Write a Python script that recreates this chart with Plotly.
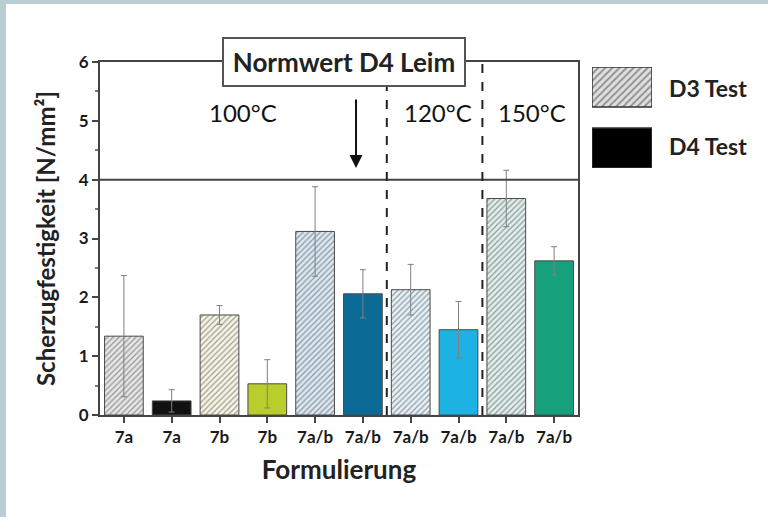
import plotly.graph_objects as go

# ---------------- data ----------------
labels = ["7a", "7a", "7b", "7b", "7a/b", "7a/b", "7a/b", "7a/b", "7a/b", "7a/b"]
tests = ["D3", "D4", "D3", "D4", "D3", "D4", "D3", "D4", "D3", "D4"]
values = [1.34, 0.24, 1.70, 0.53, 3.12, 2.06, 2.13, 1.45, 3.68, 2.62]
errors = [1.03, 0.19, 0.16, 0.41, 0.76, 0.41, 0.43, 0.48, 0.48, 0.24]
colors = ["#e6e6e6", "#111111", "#f6f5e3", "#b9cd2c", "#d9e8f2",
          "#0c6a96", "#e4f1f8", "#1cb2e3", "#dfefeb", "#17a07c"]
hatch_fg = ["#6a6a6a", None, "#c9c7b0", None, "#a9bfd0",
            None, "#b9cedb", None, "#b3cbc4", None]
group_bounds = [5.5, 7.5]
temp_labels = ["100°C", "120°C", "150°C"]
temp_x = [2.49, 6.57, 8.54]
norm_value = 4
legend_names = ["D3 Test", "D4 Test"]

FONT = "Lato"
W, H = 768, 517
L, R, T, B = 100, 110, 62, 102
pw = W - L - R
ph = H - T - B
main_right = 578

def px_x(p):
    return (p - L) / pw

def px_y(p):
    return (H - B - p) / ph

fig = go.Figure()

x_idx = list(range(len(labels)))
shapes_pat = [("/" if t == "D3" else "") for t in tests]
fig.add_trace(go.Bar(
    x=x_idx, y=values,
    width=0.81,
    marker=dict(
        color=colors,
        line=dict(color="#4a4a4a", width=1),
        pattern=dict(shape=shapes_pat,
                     fgcolor=[c if c else "#000" for c in hatch_fg],
                     size=4, solidity=0.3),
    ),
    error_y=dict(type="data", array=errors, color="#808080", thickness=1, width=3),
    showlegend=False, hoverinfo="skip",
))

# legend boxes on a separate invisible axis
fig.add_trace(go.Bar(
    x=[1, 1], y=[0, 1], orientation="h", width=0.656,
    xaxis="x2", yaxis="y2",
    marker=dict(color=["#e0e0e0", "#000000"],
                line=dict(color="#333333", width=1.5),
                pattern=dict(shape=["/", ""], fgcolor=["#555555", "#000000"],
                             size=5, solidity=0.4)),
    showlegend=False, hoverinfo="skip",
))

shapes = []
shapes.append(dict(type="line", xref="x", yref="y", x0=-0.5, x1=len(labels) - 0.5,
                   y0=norm_value, y1=norm_value, line=dict(color="#444444", width=2)))
for gb in group_bounds:
    shapes.append(dict(type="line", xref="x", yref="y", x0=gb, x1=gb, y0=0, y1=6,
                       line=dict(color="#222222", width=2, dash="dash")))
shapes.append(dict(type="rect", xref="paper", yref="paper", x0=px_x(0), x1=px_x(6),
                   y0=px_y(H), y1=px_y(0), fillcolor="#b8ced2", line=dict(width=0), layer="below"))
shapes.append(dict(type="rect", xref="paper", yref="paper", x0=px_x(0), x1=px_x(W),
                   y0=px_y(4), y1=px_y(0), fillcolor="#b8ced2", line=dict(width=0), layer="below"))

annotations = []
for t, tx in zip(temp_labels, temp_x):
    annotations.append(dict(x=tx, y=5.14, xref="x", yref="y", text=t, showarrow=False,
                            font=dict(family=FONT, size=24, color="#111111")))
annotations.append(dict(x=4.6, y=6.0, xref="x", yref="y", text="<b>Normwert D4 Leim</b>",
                        showarrow=False, width=238, height=44, bgcolor="white",
                        bordercolor="#555555", borderwidth=2,
                        font=dict(family=FONT, size=26, color="#222222")))
annotations.append(dict(x=4.856, y=4.2, xref="x", yref="y", ax=4.856, ay=5.39,
                        axref="x", ayref="y", text="", showarrow=True,
                        arrowhead=2, arrowsize=1.3, arrowwidth=2, arrowcolor="#111111"))
for i, name in enumerate(legend_names):
    annotations.append(dict(x=px_x(667), y=px_y(88 + 58 * i), xref="paper", yref="paper",
                            text="<b>" + name + "</b>", showarrow=False,
                            xanchor="left", yanchor="middle",
                            font=dict(family=FONT, size=23, color="#222222")))

fig.update_layout(
    width=W, height=H,
    margin=dict(l=L, r=R, t=T, b=B),
    paper_bgcolor="white", plot_bgcolor="white",
    shapes=shapes, annotations=annotations,
    xaxis=dict(domain=[0, px_x(main_right)], range=[-0.5, len(labels) - 0.5],
               tickvals=x_idx, ticktext=["<b>" + l + "</b>" for l in labels],
               tickfont=dict(family=FONT, size=17, color="#1a1a1a"),
               ticks="outside", ticklen=6, tickwidth=1.5, tickcolor="#444444",
               showline=True, linecolor="#444444", linewidth=2, mirror=True,
               showgrid=False, zeroline=False,
               title=dict(text="<b>Formulierung</b>", standoff=14,
                          font=dict(family=FONT, size=26, color="#222222"))),
    yaxis=dict(range=[0, 6], dtick=1,
               tickfont=dict(family=FONT, size=17, color="#1a1a1a"),
               tickprefix="<b>", ticksuffix="</b>",
               ticks="outside", ticklen=6, tickwidth=1.5, tickcolor="#444444",
               minor=dict(dtick=0.5, ticks="outside", ticklen=3, tickcolor="#777777"),
               showline=True, linecolor="#444444", linewidth=2, mirror=True,
               showgrid=False, zeroline=False,
               title=dict(text="<b>Scherzugfestigkeit [N/mm²]</b>", standoff=16,
                          font=dict(family=FONT, size=24, color="#222222"))),
    xaxis2=dict(domain=[px_x(592), px_x(652)], range=[0, 1], anchor="y2",
                visible=False, fixedrange=True),
    yaxis2=dict(domain=[px_y(168), px_y(67)], range=[1.328, -0.328], anchor="x2",
                visible=False, fixedrange=True),
)

fig.write_html("out.html", config={"displayModeBar": False},
               post_script="document.body.style.margin='0';")
